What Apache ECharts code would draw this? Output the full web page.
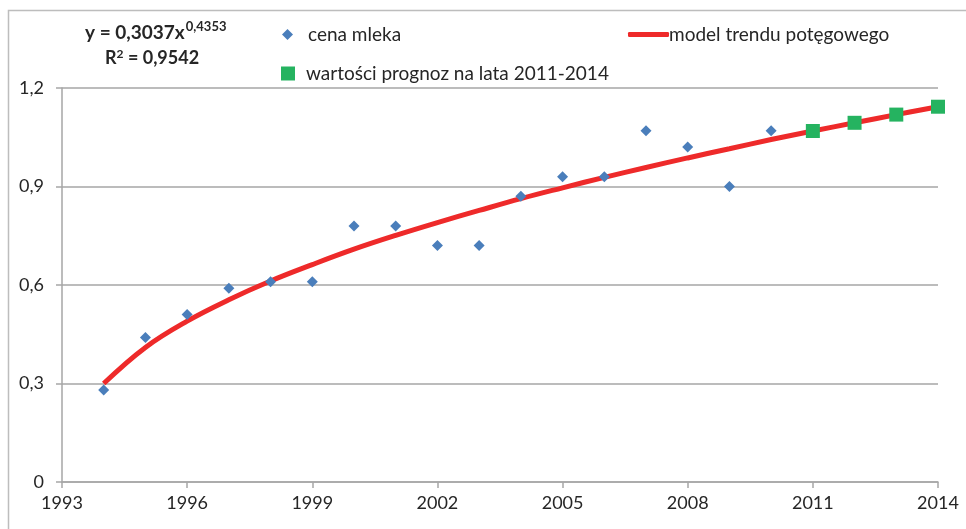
<!DOCTYPE html>
<html>
<head>
<meta charset="utf-8">
<script src="https://cdn.jsdelivr.net/npm/echarts@6/dist/echarts.min.js"></script>
<style>
html,body{margin:0;padding:0;background:#fff;}
#chart{width:966px;height:529px;}
</style>
</head>
<body>
<div id="chart"></div>
<script>
// Observed milk prices (cena mleka)
var priceYears = [1994,1995,1996,1997,1998,1999,2000,2001,2002,2003,2004,2005,2006,2007,2008,2009,2010];
var priceValues = [0.28,0.44,0.51,0.59,0.61,0.61,0.78,0.78,0.72,0.72,0.87,0.93,0.93,1.07,1.02,0.90,1.07];
// Power trend model curve
var trendYears = [1994,1995,1996,1997,1998,1999,2000,2001,2002,2003,2004,2005,2006,2007,2008,2009,2010,2011,2012,2013,2014];
var trendValues = [0.30,0.41,0.49,0.555,0.612,0.662,0.709,0.751,0.79,0.827,0.863,0.896,0.928,0.958,0.987,1.015,1.043,1.069,1.094,1.119,1.143];
// Forecasts 2011-2014
var forecastYears = [2011,2012,2013,2014];
var forecastValues = [1.069,1.094,1.119,1.143];

var seriesNames = ['cena mleka','model trendu potęgowego','wartości prognoz na lata 2011-2014'];
var FONT = 'Lato';
function zip(a,b){return a.map(function(x,i){return [x,b[i]];});}

var chart = echarts.init(document.getElementById('chart'));
chart.setOption({
  animation:false,
  textStyle:{fontFamily:FONT},
  grid:{left:62,right:28,top:88,bottom:47},
  graphic:[
    {type:'rect',shape:{x:8.5,y:10.5,width:1000,height:600},style:{fill:'none',stroke:'#bdbdbd',lineWidth:1.5},silent:true,z:-1},
    {type:'text',left:85,top:20,style:{
      text:'{a|y = 0,3037x}{b|0,4353}',
      rich:{a:{fontFamily:FONT,fontSize:19,fontWeight:'bold',fill:'#262626',verticalAlign:'bottom'},
            b:{fontFamily:FONT,fontSize:13,fontWeight:'bold',fill:'#262626',verticalAlign:'top',padding:[0,0,9,1]}}
    }},
    {type:'text',left:105,top:48,style:{
      text:'{a|R}{b|2}{a| = 0,9542}',
      rich:{a:{fontFamily:FONT,fontSize:18,fontWeight:'bold',fill:'#262626'},
            b:{fontFamily:FONT,fontSize:12,fontWeight:'bold',fill:'#262626',padding:[0,0,8,0]}}
    }}
  ],
  legend:[
    {data:[{name:seriesNames[0],icon:'diamond'}],left:277,top:20,itemWidth:11,itemHeight:11,itemGap:10,
     textStyle:{fontFamily:FONT,fontSize:19,color:'#262626',padding:[0,0,0,10]}},
    {data:[{name:seriesNames[1],icon:'roundRect'}],left:623,top:20,itemWidth:41,itemHeight:5,
     textStyle:{fontFamily:FONT,fontSize:19,color:'#262626',padding:[0,0,0,-5]}},
    {data:[{name:seriesNames[2],icon:'rect'}],left:276,top:59,itemWidth:14,itemHeight:14,
     textStyle:{fontFamily:FONT,fontSize:19,color:'#262626',padding:[0,0,0,6]}}
  ],
  xAxis:{type:'value',min:1993,max:2014,interval:3,
    axisLine:{show:true,lineStyle:{color:'#a6a6a6',width:1.5}},
    axisTick:{show:true,length:6,lineStyle:{color:'#a6a6a6',width:1.5}},
    splitLine:{show:false},
    axisLabel:{fontFamily:FONT,fontSize:18,color:'#262626',margin:12,showMaxLabel:true,showMinLabel:true,
      formatter:function(v){return String(v);}}},
  yAxis:{type:'value',min:0,max:1.2,interval:0.3,
    axisLine:{show:true,lineStyle:{color:'#a6a6a6',width:1.5}},
    axisTick:{show:true,length:6,lineStyle:{color:'#a6a6a6',width:1.5}},
    splitLine:{show:true,lineStyle:{color:'#a6a6a6',width:1.5}},
    axisLabel:{fontFamily:FONT,fontSize:18,color:'#262626',margin:18,
      formatter:function(v){return v===0?'0':v.toFixed(1).replace('.',',');}}},
  series:[
    {name:seriesNames[0],type:'scatter',symbol:'diamond',symbolSize:11,
     itemStyle:{color:'#4a7ebb',opacity:1},data:zip(priceYears,priceValues),z:3},
    {name:seriesNames[1],type:'line',smooth:0.4,showSymbol:false,symbol:'none',
     lineStyle:{color:'#ee2a2a',width:5},itemStyle:{color:'#ee2a2a'},data:zip(trendYears,trendValues),z:2},
    {name:seriesNames[2],type:'scatter',symbol:'rect',symbolSize:14,
     itemStyle:{color:'#25b360',opacity:1},data:zip(forecastYears,forecastValues),z:4}
  ]
});
</script>
</body>
</html>
